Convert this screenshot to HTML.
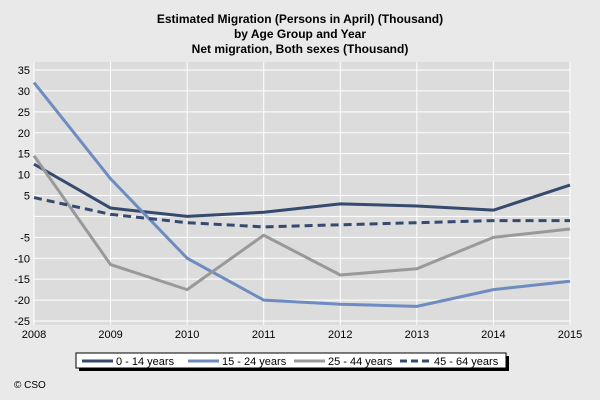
<!DOCTYPE html>
<html><head><meta charset="utf-8"><style>
body{margin:0;background:#e9e9e9;}
svg{display:block;font-family:"Liberation Sans",Arial,sans-serif;}
</style></head><body>
<svg width="600" height="400">
<rect x="0" y="0" width="600" height="400" fill="#e9e9e9"/>
<g font-size="12" font-weight="bold" text-anchor="middle" fill="#000">
<text x="300" y="23">Estimated Migration (Persons in April) (Thousand)</text>
<text x="300" y="38">by Age Group and Year</text>
<text x="300" y="53">Net migration, Both sexes (Thousand)</text>
</g>
<rect x="34" y="62" width="536" height="263" fill="#dcdcdc"/>
<g id="grid"></g>
<g id="series"></g>
<g id="axes" font-size="11" fill="#000"></g>
<g>
<rect x="79" y="356" width="430" height="15" fill="#000"/>
<rect x="76" y="353" width="430" height="15" fill="#fff" stroke="#000" stroke-width="1"/>
<line x1="82" y1="361" x2="113" y2="361" stroke="#344a6e" stroke-width="3"/>
<text x="116" y="365" font-size="11">0 - 14 years</text>
<line x1="188" y1="361" x2="219" y2="361" stroke="#6f8cc0" stroke-width="3"/>
<text x="222" y="365" font-size="11">15 - 24 years</text>
<line x1="294" y1="361" x2="325" y2="361" stroke="#999" stroke-width="3"/>
<text x="328" y="365" font-size="11">25 - 44 years</text>
<line x1="400" y1="361" x2="431" y2="361" stroke="#344a6e" stroke-width="3" stroke-dasharray="7,4"/>
<text x="434" y="365" font-size="11">45 - 64 years</text>
</g>
<text x="14" y="388" font-size="10">© CSO</text>
</svg>
<script>
const years=[2008,2009,2010,2011,2012,2013,2014,2015];
const yTicks=[35,30,25,20,15,10,5,0,-5,-10,-15,-20,-25];
const yTickLabels=["35","30","25","20","15","10","5","","-5","-10","-15","-20","-25"];
const age0to14=[12.5,2,0,1,3,2.5,1.5,7.5];
const age15to24=[32,9,-10,-20,-21,-21.5,-17.5,-15.5];
const age25to44=[14.5,-11.5,-17.5,-4.5,-14,-12.5,-5,-3];
const age45to64=[4.5,0.5,-1.5,-2.5,-2,-1.5,-1,-1];
const NS="http://www.w3.org/2000/svg";
const x=v=>34+(v-2008)*(536/7);
const y=v=>70+(35-v)*(251/60);
function mk(tag,attrs,parent){const e=document.createElementNS(NS,tag);for(const k in attrs)e.setAttribute(k,attrs[k]);parent.appendChild(e);return e;}
const grid=document.getElementById('grid'),axes=document.getElementById('axes'),ser=document.getElementById('series');
yTicks.forEach((t,i)=>{
 const l=mk('line',{x1:34,x2:570,y1:y(t),y2:y(t),stroke:'#fff','stroke-width':1},grid);
 
 
 const tx=mk('text',{x:30,y:y(t)+4,'text-anchor':'end'},axes);tx.textContent=yTickLabels[i];
 
 
});
years.forEach(yr=>{
 const l=mk('line',{x1:x(yr),x2:x(yr),y1:62,y2:325,stroke:'#fff','stroke-width':1},grid);
 
 
 const tx=mk('text',{x:x(yr),y:338,'text-anchor':'middle'},axes);tx.textContent=yr;
 
 
});
const series=[[age0to14,'#344a6e',null,'series-0-14'],[age15to24,'#6f8cc0',null,'series-15-24'],[age25to44,'#999',null,'series-25-44'],[age45to64,'#344a6e','8,5','series-45-64']];
series.forEach(([d,c,dash,n])=>{
 const a={points:d.map((v,i)=>x(years[i])+','+y(v)).join(' '),fill:'none',stroke:c,'stroke-width':3,'stroke-linejoin':'round'};
 if(dash)a['stroke-dasharray']=dash;
 const p=mk('polyline',a,ser);
 
 
});
</script>
</body></html>
